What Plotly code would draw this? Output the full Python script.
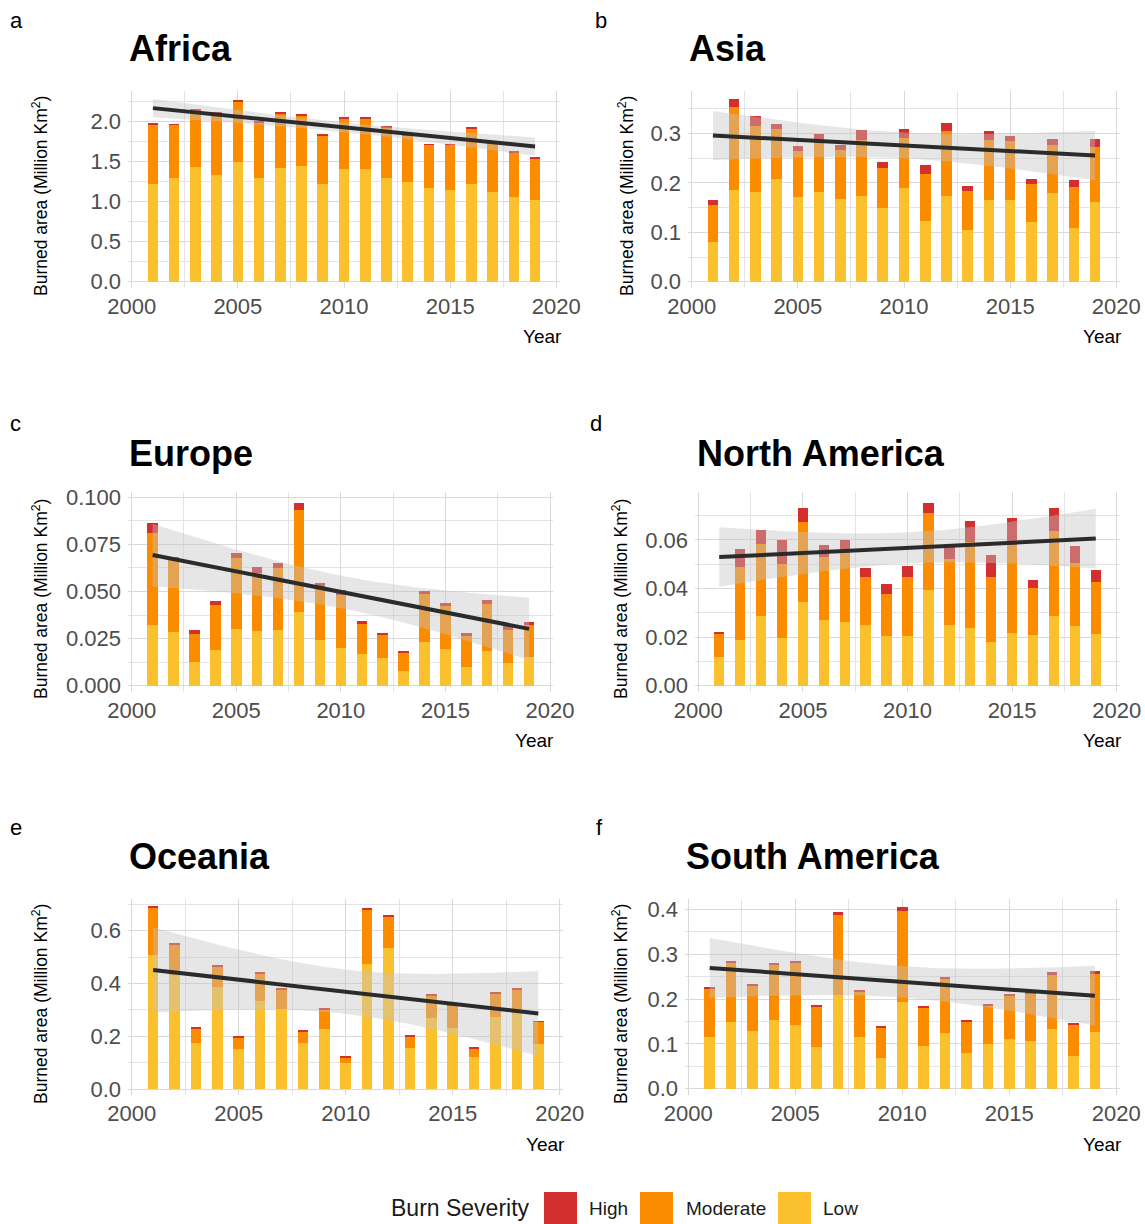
import numpy as np
import plotly.graph_objects as go

W, H = 1145, 1224
FONT = "Liberation Sans, Arial, Helvetica, sans-serif"

years = list(range(2001, 2020))
x_ticks = [2000, 2005, 2010, 2015, 2020]
severity_labels = ["High", "Moderate", "Low"]

# ---- data (Million km2) ----
africa_low = [1.22, 1.30, 1.43, 1.33, 1.50, 1.30, 1.42, 1.45, 1.22, 1.41, 1.41, 1.30, 1.25, 1.17, 1.15, 1.22, 1.12, 1.06, 1.02]
africa_moderate = [0.745, 0.66, 0.71, 0.77, 0.75, 0.69, 0.68, 0.625, 0.605, 0.63, 0.63, 0.625, 0.58, 0.54, 0.56, 0.70, 0.61, 0.56, 0.52]
africa_high = [0.01, 0.01, 0.01, 0.01, 0.01, 0.01, 0.01, 0.01, 0.01, 0.01, 0.01, 0.01, 0.01, 0.01, 0.01, 0.01, 0.01, 0.01, 0.01]

asia_low = [0.080, 0.185, 0.181, 0.208, 0.171, 0.181, 0.167, 0.173, 0.149, 0.189, 0.123, 0.173, 0.105, 0.165, 0.165, 0.121, 0.179, 0.109, 0.161]
asia_moderate = [0.075, 0.168, 0.134, 0.101, 0.093, 0.108, 0.099, 0.114, 0.081, 0.102, 0.095, 0.132, 0.078, 0.122, 0.120, 0.077, 0.097, 0.083, 0.111]
asia_high = [0.010, 0.017, 0.020, 0.010, 0.010, 0.010, 0.010, 0.020, 0.012, 0.018, 0.018, 0.016, 0.011, 0.018, 0.010, 0.010, 0.013, 0.014, 0.017]

europe_low = [0.0323, 0.0285, 0.0126, 0.0190, 0.0301, 0.0291, 0.0296, 0.0392, 0.0243, 0.0200, 0.0168, 0.0147, 0.0078, 0.0232, 0.0195, 0.0099, 0.0184, 0.0120, 0.0152]
europe_moderate = [0.0489, 0.0391, 0.0149, 0.0239, 0.0378, 0.0308, 0.0330, 0.0542, 0.0282, 0.0282, 0.0160, 0.0123, 0.0096, 0.0256, 0.0229, 0.0165, 0.0250, 0.0176, 0.0171]
europe_high = [0.0053, 0.0009, 0.0021, 0.0021, 0.0027, 0.0032, 0.0026, 0.0038, 0.0021, 0.0027, 0.0016, 0.0010, 0.0010, 0.0016, 0.0016, 0.0016, 0.0022, 0.0021, 0.0016]

north_america_low = [0.0118, 0.0188, 0.0287, 0.0196, 0.0345, 0.0270, 0.0262, 0.0250, 0.0205, 0.0205, 0.0394, 0.0250, 0.0237, 0.0180, 0.0217, 0.0208, 0.0287, 0.0245, 0.0212]
north_america_moderate = [0.0095, 0.0301, 0.0296, 0.0305, 0.0329, 0.0260, 0.0283, 0.0197, 0.0172, 0.0242, 0.0317, 0.0272, 0.0355, 0.0267, 0.0362, 0.0194, 0.0350, 0.0260, 0.0215]
north_america_high = [0.0008, 0.0074, 0.0058, 0.0099, 0.0058, 0.0049, 0.0055, 0.0038, 0.0042, 0.0046, 0.0041, 0.0053, 0.0086, 0.0091, 0.0111, 0.0033, 0.0095, 0.0070, 0.0049]

oceania_low = [0.508, 0.432, 0.175, 0.387, 0.154, 0.334, 0.304, 0.176, 0.228, 0.100, 0.475, 0.534, 0.156, 0.270, 0.232, 0.122, 0.273, 0.287, 0.171]
oceania_moderate = [0.179, 0.117, 0.054, 0.079, 0.041, 0.102, 0.075, 0.044, 0.072, 0.022, 0.203, 0.121, 0.043, 0.083, 0.084, 0.034, 0.091, 0.092, 0.084]
oceania_high = [0.004, 0.004, 0.003, 0.004, 0.004, 0.004, 0.004, 0.004, 0.004, 0.004, 0.004, 0.004, 0.003, 0.004, 0.002, 0.004, 0.004, 0.004, 0.003]

south_america_low = [0.115, 0.149, 0.129, 0.153, 0.142, 0.093, 0.209, 0.115, 0.068, 0.193, 0.095, 0.124, 0.080, 0.100, 0.111, 0.106, 0.133, 0.073, 0.126]
south_america_moderate = [0.1095, 0.131, 0.100, 0.123, 0.138, 0.089, 0.178, 0.101, 0.067, 0.203, 0.085, 0.121, 0.069, 0.084, 0.096, 0.107, 0.1205, 0.069, 0.130]
south_america_high = [0.0025, 0.005, 0.004, 0.004, 0.005, 0.005, 0.007, 0.004, 0.005, 0.009, 0.004, 0.004, 0.004, 0.005, 0.004, 0.003, 0.0065, 0.0045, 0.0065]

region_names = ["Africa", "Asia", "Europe", "North America", "Oceania", "South America"]
panel_letters = ["a", "b", "c", "d", "e", "f"]
region_data = [
    (africa_low, africa_moderate, africa_high),
    (asia_low, asia_moderate, asia_high),
    (europe_low, europe_moderate, europe_high),
    (north_america_low, north_america_moderate, north_america_high),
    (oceania_low, oceania_moderate, oceania_high),
    (south_america_low, south_america_moderate, south_america_high),
]

# ---- styling / layout (pixel boxes of each panel) ----
C_HIGH, C_MOD, C_LOW = "#D32F2F", "#FB8C00", "#FBC02D"
GRID_MAJ, GRID_MIN = "#d9d9d9", "#e4e4e4"
TICK_COL = "#4d4d4d"

# (left, right, top, bottom) px ; px position of year 2000 & 2020 ; y: px of zero, px per unit
panels = [
    dict(box=(128, 560, 91, 288), x2000=131.7, x2020=556.3, y0=281.7, ppu=80.0, dt=0.5, fmt=".1f"),
    dict(box=(688, 1120, 91, 288), x2000=691.7, x2020=1116.3, y0=281.7, ppu=494.0, dt=0.1, fmt=".1f"),
    dict(box=(128, 553, 492, 692), x2000=131.7, x2020=550.0, y0=685.7, ppu=1884.0, dt=0.025, fmt=".3f"),
    dict(box=(695, 1120, 492, 692), x2000=698.3, x2020=1116.7, y0=685.7, ppu=2428.5, dt=0.02, fmt=".2f"),
    dict(box=(128, 563, 899, 1095), x2000=131.7, x2020=559.7, y0=1089.3, ppu=264.5, dt=0.2, fmt=".1f"),
    dict(box=(685, 1120, 899, 1095), x2000=688.3, x2020=1116.3, y0=1088.7, ppu=448.5, dt=0.1, fmt=".1f"),
]
title_pos = [(127, 48.5), (687, 48.5), (127, 453), (695, 453), (127, 856), (684, 856)]
letter_pos = [(8, 20), (593, 20), (8, 423), (588, 423), (8, 827), (594, 827)]
ytitle_pos = [(40, 196), (626, 196), (40, 599), (620, 599), (40, 1004), (620, 1004)]
year_pos = [(564, 336), (1124, 336), (556, 740), (1124, 740), (567, 1144), (1124, 1144)]

T_CRIT = 2.109816  # t(0.975, df=17)


def px(xp):
    return xp / W


def py(yp):
    return 1 - yp / H


fig = go.Figure()
annotations = []
shapes = []

for i, (name, (low, mod, high), p) in enumerate(zip(region_names, region_data, panels)):
    k = "" if i == 0 else str(i + 1)
    xa, ya = "x" + k, "y" + k
    for vals, col, lab in [(low, C_LOW, "Low"), (mod, C_MOD, "Moderate"), (high, C_HIGH, "High")]:
        fig.add_trace(go.Bar(x=years, y=vals, width=0.5, marker=dict(color=col, line=dict(width=0)),
                             name=lab, showlegend=False, xaxis=xa, yaxis=ya))
    # linear model with 95% CI on yearly totals
    tot = np.array(low) + np.array(mod) + np.array(high)
    xs = np.array(years, dtype=float)
    b, a = np.polyfit(xs, tot, 1)
    resid = tot - (a + b * xs)
    n = len(xs)
    s = np.sqrt(np.sum(resid ** 2) / (n - 2))
    xbar = xs.mean()
    sxx = np.sum((xs - xbar) ** 2)
    grid = np.linspace(xs.min(), xs.max(), 80)
    fit = a + b * grid
    se = s * np.sqrt(1.0 / n + (grid - xbar) ** 2 / sxx)
    upper = fit + T_CRIT * se
    lower = fit - T_CRIT * se
    fig.add_trace(go.Scatter(x=np.concatenate([grid, grid[::-1]]), y=np.concatenate([upper, lower[::-1]]),
                             fill="toself", fillcolor="rgba(195,195,195,0.42)", line=dict(width=0),
                             mode="lines", showlegend=False, hoverinfo="skip", xaxis=xa, yaxis=ya))
    fig.add_trace(go.Scatter(x=grid, y=fit, mode="lines", line=dict(color="#2b2b2b", width=4),
                             showlegend=False, xaxis=xa, yaxis=ya))

    l, r, t, bt = p["box"]
    ppy = (p["x2020"] - p["x2000"]) / 20.0
    xr = [2000 + (l - p["x2000"]) / ppy, 2000 + (r - p["x2000"]) / ppy]
    yr = [(p["y0"] - bt) / p["ppu"], (p["y0"] - t) / p["ppu"]]
    common = dict(showline=False, zeroline=False, ticks="", showgrid=True, automargin=False,
                  gridcolor=GRID_MAJ, gridwidth=1.4,
                  tickfont=dict(family=FONT, size=22, color=TICK_COL))
    fig.layout["xaxis" + k] = dict(domain=[px(l), px(r)], range=xr, anchor=ya,
                                   tickmode="array", tickvals=x_ticks, ticktext=[str(v) for v in x_ticks],
                                   minor=dict(tickmode="array", tickvals=[2002.5, 2007.5, 2012.5, 2017.5],
                                              showgrid=True, gridcolor=GRID_MIN, gridwidth=1),
                                   ticklabelstandoff=3, **common)
    fig.layout["yaxis" + k] = dict(domain=[py(bt), py(t)], range=yr, anchor=xa,
                                   tick0=0, dtick=p["dt"], tickformat=p["fmt"],
                                   minor=dict(tick0=0, dtick=p["dt"] / 2, showgrid=True,
                                              gridcolor=GRID_MIN, gridwidth=1),
                                   ticklabelstandoff=6, **common)

    tx, ty = title_pos[i]
    annotations.append(dict(text="<b>%s</b>" % name, x=px(tx), y=py(ty), xref="paper", yref="paper",
                            xanchor="left", yanchor="middle", showarrow=False,
                            font=dict(family=FONT, size=36, color="black")))
    lx, ly = letter_pos[i]
    annotations.append(dict(text=panel_letters[i], x=px(lx), y=py(ly), xref="paper", yref="paper",
                            xanchor="left", yanchor="middle", showarrow=False,
                            font=dict(family=FONT, size=22, color="black")))
    yx, yy = ytitle_pos[i]
    annotations.append(dict(text="Burned area (Million Km<sup>2</sup>)", x=px(yx), y=py(yy),
                            xref="paper", yref="paper", xanchor="center", yanchor="middle",
                            textangle=-90, showarrow=False, font=dict(family=FONT, size=17.5, color="black")))
    rx, ry = year_pos[i]
    annotations.append(dict(text="Year", x=px(rx), y=py(ry), xref="paper", yref="paper",
                            xanchor="right", yanchor="middle", showarrow=False,
                            font=dict(family=FONT, size=19, color="black")))

# ---- manual legend ----
annotations.append(dict(text="Burn Severity", x=px(389), y=py(1208), xref="paper", yref="paper",
                        xanchor="left", yanchor="middle", showarrow=False,
                        font=dict(family=FONT, size=23, color="#1a1a1a")))
legend_items = [("High", C_HIGH, 544, 587), ("Moderate", C_MOD, 640, 684), ("Low", C_LOW, 778, 821)]
for lab, col, sx, tx in legend_items:
    shapes.append(dict(type="rect", xref="paper", yref="paper", x0=px(sx), x1=px(sx + 33),
                       y0=py(1224), y1=py(1192), fillcolor=col, line=dict(width=0)))
    annotations.append(dict(text=lab, x=px(tx), y=py(1208), xref="paper", yref="paper",
                            xanchor="left", yanchor="middle", showarrow=False,
                            font=dict(family=FONT, size=19, color="#1a1a1a")))

fig.update_layout(width=W, height=H, margin=dict(l=0, r=0, t=0, b=0, pad=0, autoexpand=False),
                  barmode="stack", bargap=0, plot_bgcolor="white", paper_bgcolor="white",
                  showlegend=False, annotations=annotations, shapes=shapes,
                  font=dict(family=FONT))

fig.write_html("out.html", config={"displayModeBar": False},
               post_script="document.body.style.margin='0';document.body.style.padding='0';"
                           "document.body.style.overflow='hidden';")
